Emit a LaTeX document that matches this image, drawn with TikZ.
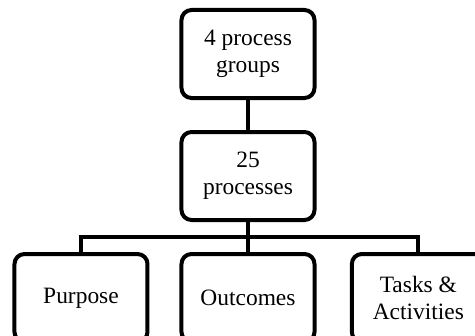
\documentclass[tikz,border=0pt]{standalone}
\usepackage{fontspec}
\setmainfont{Liberation Serif}
\usetikzlibrary{positioning}
\usetikzlibrary{calc}

\begin{document}
\begin{tikzpicture}[x=0.03cm, y=-0.03cm, node distance=0.9cm,
    box/.style={draw, line width=0.12cm, rounded corners=0.3cm, align=center,
        minimum width=3.99cm, minimum height=2.64cm,
        font=\fontsize{20}{23}\selectfont},
    link/.style={line width=0.12cm}]
        \fill[white] (0,0) rectangle (475,335);
        \clip (0,0) rectangle (475,335);
        \node[box] (groups) at (248,54) {4 process\\groups};
        \node[box, below=of groups] (procs) {25\\processes};
        \node[box, below=of procs] (outc) {Outcomes};
        \node[box, left=of outc] (purp) {Purpose};
        \node[box, right=1cm of outc] (tasks) {Tasks \&\\Activities};

        \coordinate (bus) at ($(procs.south)!0.5!(outc.north)$);
        \draw[link] (groups) -- (procs);
        \draw[link] (procs) -- (outc);
        \draw[link] (purp.north) |- (bus) -| (tasks.north);
    \end{tikzpicture}
\end{document}
